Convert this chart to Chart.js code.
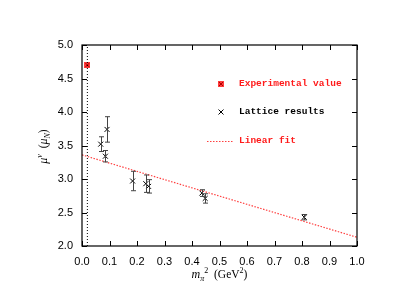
<!DOCTYPE html>
<html>
<head>
<meta charset="utf-8">
<script src="https://cdn.jsdelivr.net/npm/chart.js@4.4.1/dist/chart.umd.min.js"></script>
<style>
  html, body { margin: 0; padding: 0; background: #fff; }
  #wrap { width: 395px; height: 305px; position: relative; }
</style>
</head>
<body>
<div id="wrap"><canvas id="muChart"></canvas></div>
<script>
// values
const expX = [0.0195];
const expY = [4.70];
const latticeX = [0.068, 0.085, 0.091, 0.184, 0.232, 0.242, 0.436, 0.448, 0.808];
const latticeY = [3.52, 3.34, 3.74, 2.97, 2.93, 2.89, 2.79, 2.71, 2.43];
const latticeErr = [0.11, 0.085, 0.19, 0.145, 0.13, 0.10, 0.05, 0.07, 0.04];
const fitX = [0.0, 1.0];
const fitY = [3.36, 2.13];
const physX = [0.0195, 0.0195];
const physY = [2.0, 5.0];
const xTicks = [0, 0.1, 0.2, 0.3, 0.4, 0.5, 0.6, 0.7, 0.8, 0.9, 1.0];
const yTicks = [2.0, 2.5, 3.0, 3.5, 4.0, 4.5, 5.0];
const legendLabels = ['Experimental value', 'Lattice results', 'Linear fit'];

let muChart;

function expMarker() {
  const c = document.createElement('canvas');
  c.width = 6; c.height = 6;
  const g = c.getContext('2d');
  g.fillStyle = '#ff3b3b';
  g.fillRect(0, 0, 6, 6);
  g.strokeStyle = '#b00000';
  g.lineWidth = 1;
  g.beginPath();
  g.moveTo(1, 1); g.lineTo(5, 5);
  g.moveTo(5, 1); g.lineTo(1, 5);
  g.stroke();
  return c;
}

function toPts(xs, ys) {
  return xs.map((x, i) => ({ x: x, y: ys[i] }));
}

// draw pieces of text with sub/superscripts
function drawRich(ctx, parts, x, y) {
  let w = 0;
  parts.forEach(p => { ctx.font = p.font; w += ctx.measureText(p.t).width; });
  let cx = x - w / 2;
  parts.forEach(p => {
    ctx.font = p.font;
    ctx.fillText(p.t, cx, y + (p.dy || 0));
    cx += ctx.measureText(p.t).width;
  });
}

const framePlugin = {
  id: 'frame',
  afterDatasetsDraw(chart) {
    const ctx = chart.ctx;
    const a = chart.chartArea;
    const xs = chart.scales.x, ys = chart.scales.y;
    ctx.save();
    // error bars
    ctx.strokeStyle = '#444';
    ctx.lineWidth = 1;
    latticeX.forEach((x, i) => {
      const px = Math.round(xs.getPixelForValue(x)) + 0.5;
      const top = ys.getPixelForValue(latticeY[i] + latticeErr[i]);
      const bot = ys.getPixelForValue(latticeY[i] - latticeErr[i]);
      ctx.beginPath();
      ctx.moveTo(px, top); ctx.lineTo(px, bot);
      ctx.moveTo(px - 2.5, top); ctx.lineTo(px + 2.5, top);
      ctx.moveTo(px - 2.5, bot); ctx.lineTo(px + 2.5, bot);
      ctx.stroke();
    });
    // box and inward ticks
    ctx.strokeStyle = '#000';
    ctx.lineWidth = 1.2;
    ctx.strokeRect(a.left, a.top, a.right - a.left, a.bottom - a.top);
    ctx.lineWidth = 1;
    ctx.beginPath();
    xTicks.forEach(v => {
      const px = Math.round(xs.getPixelForValue(v)) + 0.5;
      ctx.moveTo(px, a.bottom); ctx.lineTo(px, a.bottom - 5);
      ctx.moveTo(px, a.top); ctx.lineTo(px, a.top + 5);
    });
    yTicks.forEach(v => {
      const py = Math.round(ys.getPixelForValue(v)) + 0.5;
      ctx.moveTo(a.left, py); ctx.lineTo(a.left + 5, py);
      ctx.moveTo(a.right, py); ctx.lineTo(a.right - 5, py);
    });
    ctx.stroke();

    // legend
    const lx = a.left + 139, tx = a.left + 157;
    const rows = [a.top + 39, a.top + 67, a.top + 96];
    ctx.font = 'bold 9.5px "Liberation Mono", monospace';
    ctx.textBaseline = 'middle';
    ctx.drawImage(expMarker(), lx - 3, rows[0] - 3);
    ctx.fillStyle = '#ff1a1a';
    ctx.fillText(legendLabels[0], tx, rows[0]);
    ctx.strokeStyle = '#000';
    ctx.beginPath();
    ctx.moveTo(lx - 2.5, rows[1] - 2.5); ctx.lineTo(lx + 2.5, rows[1] + 2.5);
    ctx.moveTo(lx + 2.5, rows[1] - 2.5); ctx.lineTo(lx - 2.5, rows[1] + 2.5);
    ctx.stroke();
    ctx.fillStyle = '#000';
    ctx.fillText(legendLabels[1], tx, rows[1]);
    ctx.strokeStyle = '#ff4040';
    ctx.setLineDash([1.5, 1.5]);
    ctx.beginPath();
    ctx.moveTo(lx - 14, rows[2] + 0.5); ctx.lineTo(lx + 12, rows[2] + 0.5);
    ctx.stroke();
    ctx.setLineDash([]);
    ctx.fillStyle = '#ff1a1a';
    ctx.fillText(legendLabels[2], tx, rows[2]);

    // axis titles
    ctx.fillStyle = '#000';
    ctx.textBaseline = 'alphabetic';
    const it = 'italic 12px "Liberation Serif", serif';
    const rm = '11.5px "Liberation Serif", serif';
    const sm = '8px "Liberation Serif", serif';
    const smi = 'italic 8px "Liberation Serif", serif';
    drawRich(ctx, [
      { t: 'm', font: it },
      { t: '\u03c0', font: smi, dy: 3 },
      { t: '2', font: sm, dy: -5 },
      { t: '  (GeV', font: rm },
      { t: '2', font: sm, dy: -5 },
      { t: ')', font: rm }
    ], (a.left + a.right) / 2, a.bottom + 32);
    ctx.translate(a.left - 39, (a.top + a.bottom) / 2 + 1);
    ctx.rotate(-Math.PI / 2);
    drawRich(ctx, [
      { t: '\u03bc', font: it },
      { t: 'v', font: smi, dy: -5 },
      { t: '  (', font: rm },
      { t: '\u03bc', font: it },
      { t: 'N', font: smi, dy: 3 },
      { t: ')', font: rm }
    ], 0, 4);
    ctx.restore();
  }
};

function initChart() {
  const ctx = document.getElementById('muChart');
  muChart = new Chart(ctx, {
    type: 'scatter',
    data: {
      datasets: [{
        label: 'Physical point',
        data: toPts(physX, physY),
        showLine: true,
        borderColor: '#000',
        borderWidth: 1,
        borderDash: [1, 2],
        pointRadius: 0
      }, {
        label: 'Linear fit',
        data: toPts(fitX, fitY),
        showLine: true,
        borderColor: '#ff4040',
        borderWidth: 1.2,
        borderDash: [1.5, 1.5],
        pointRadius: 0
      }, {
        label: 'Lattice results',
        data: toPts(latticeX, latticeY),
        pointStyle: 'crossRot',
        pointRadius: 3.5,
        borderColor: '#000',
        borderWidth: 1
      }, {
        label: 'Experimental value',
        data: toPts(expX, expY),
        pointStyle: expMarker(),
        pointRadius: 3
      }]
    },
    options: {
      responsive: true,
      maintainAspectRatio: false,
      animation: false,
      layout: { padding: { left: 0, right: 38, top: 45, bottom: 0 } },
      plugins: { legend: { display: false }, tooltip: { enabled: false } },
      scales: {
        x: {
          type: 'linear', min: 0, max: 1,
          afterFit: s => { s.height = 59; },
          afterBuildTicks: s => { s.ticks = xTicks.map(v => ({ value: v })); },
          grid: { display: false, drawTicks: false },
          border: { display: false },
          ticks: {
            padding: 9, color: '#000', maxRotation: 0, autoSkip: false,
            font: { family: '"Liberation Sans", Arial, sans-serif', size: 11 },
            callback: v => v.toFixed(1)
          }
        },
        y: {
          type: 'linear', min: 2, max: 5,
          afterFit: s => { s.width = 82; },
          afterBuildTicks: s => { s.ticks = yTicks.map(v => ({ value: v })); },
          grid: { display: false, drawTicks: false },
          border: { display: false },
          ticks: {
            padding: 9, color: '#000', autoSkip: false,
            font: { family: '"Liberation Sans", Arial, sans-serif', size: 11 },
            callback: v => v.toFixed(1)
          }
        }
      }
    },
    plugins: [framePlugin]
  });
}

document.addEventListener('DOMContentLoaded', initChart);
</script>
</body>
</html>
